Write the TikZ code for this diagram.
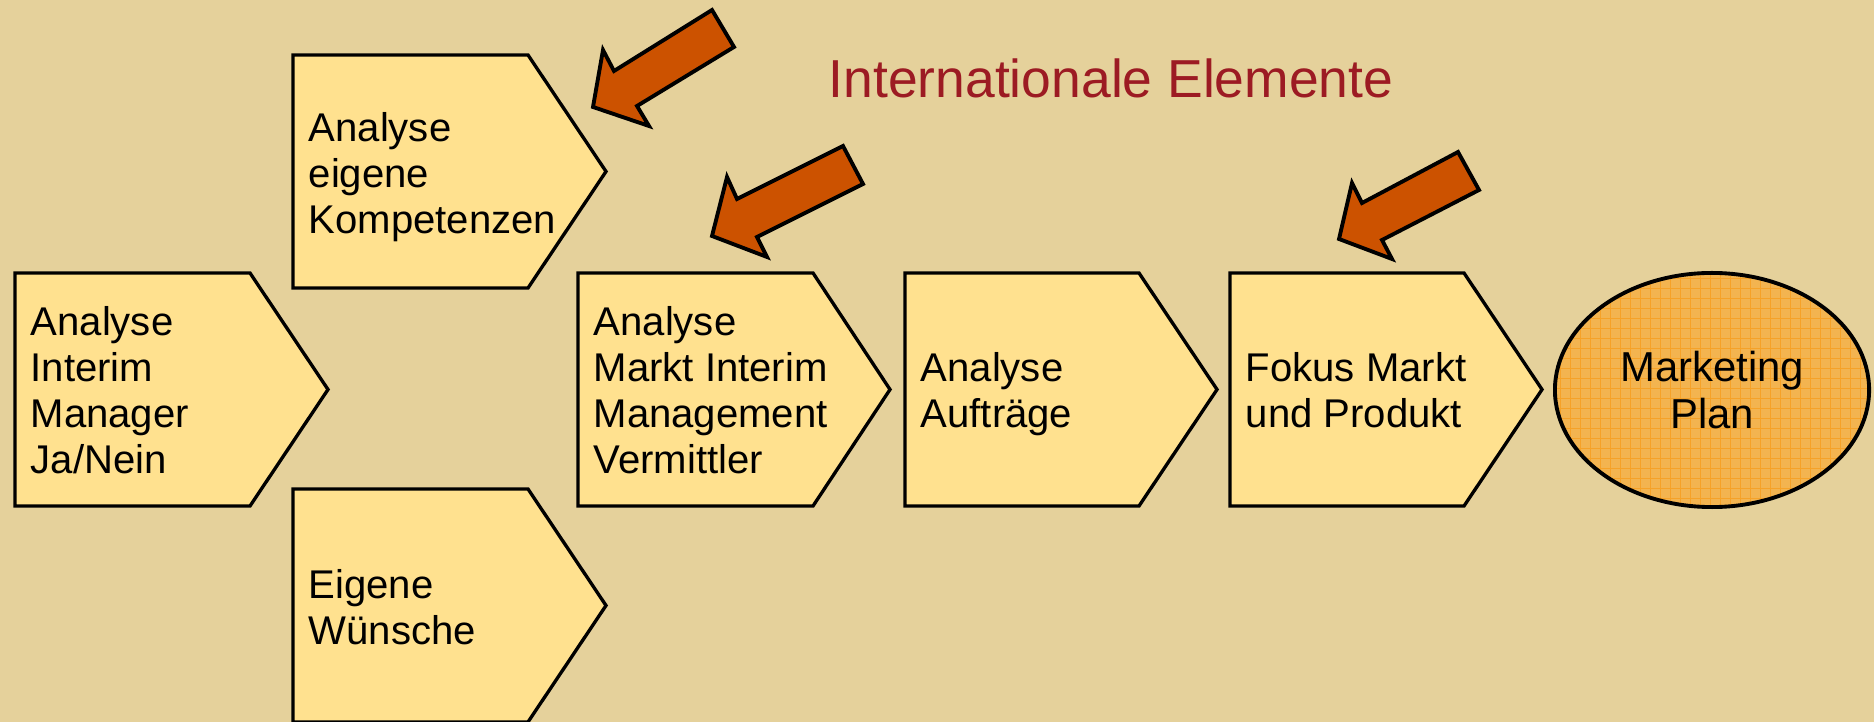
\documentclass[tikz,border=0pt]{standalone}
\usepackage{fontspec}
\setmainfont{Liberation Sans}
\usetikzlibrary{shapes.geometric}
\definecolor{paper}{RGB}{229,209,155}
\definecolor{stagefill}{RGB}{255,225,143}
\definecolor{intlfill}{RGB}{204,82,0}
\definecolor{planfill}{RGB}{243,180,80}
\definecolor{plangrid}{RGB}{246,162,40}
\definecolor{titlered}{RGB}{156,27,35}

\begin{document}
\begin{tikzpicture}[x=0.01cm,y=-0.01cm]
    \tikzstyle{every node}+=[inner sep=0pt]
    \tikzstyle{stage}=[draw=black, line width=0.95pt, fill=stagefill]
    \tikzstyle{stagetext}=[anchor=north west, align=left, font=\fontsize{11.4}{13.1}\selectfont]
    \tikzstyle{intl}=[draw=black, line width=1.1pt, fill=intlfill]
    \tikzstyle{plan}=[ellipse, draw=black, line width=1.1pt, fill=planfill,
        minimum width=3.14cm, minimum height=2.34cm, align=center,
        font=\fontsize{11.9}{13.6}\selectfont,
        path picture={\draw [plangrid, line width=0.3pt] (path picture bounding box.south west)
            grid [step=0.1cm] (path picture bounding box.north east);}]
    \useasboundingbox (0,0) rectangle (1874,722);
    \fill [paper] (0,0) rectangle (1874,722);
    % stages
    \draw [stage] (15,273) -- (250,273) -- (328,389.5) -- (250,506) -- (15,506) -- cycle;
    \node [stagetext] (interim) at (30,306) {Analyse\\Interim\\Manager\\Ja/Nein};
    \draw [stage] (293,55) -- (528,55) -- (606,171.5) -- (528,288) -- (293,288) -- cycle;
    \node [stagetext] (kompetenz) at (308,112) {Analyse\\eigene\\Kompetenzen};
    \draw [stage] (293,489) -- (528,489) -- (606,605.5) -- (528,722) -- (293,722) -- cycle;
    \node [stagetext] (wuensche) at (308,569) {Eigene\\Wünsche};
    \draw [stage] (578,273) -- (813,273) -- (890,389.5) -- (813,506) -- (578,506) -- cycle;
    \node [stagetext] (vermittler) at (593,306) {Analyse\\Markt Interim\\Management\\Vermittler};
    \draw [stage] (905,273) -- (1139,273) -- (1217,389.5) -- (1139,506) -- (905,506) -- cycle;
    \node [stagetext] (auftraege) at (920,352) {Analyse\\Aufträge};
    \draw [stage] (1230,273) -- (1464,273) -- (1542,389.5) -- (1464,506) -- (1230,506) -- cycle;
    \node [stagetext] (fokus) at (1245,352) {Fokus Markt\\und Produkt};
    % result
    \node [plan] (plan) at (1712,390) {Marketing\\Plan};
    % international elements
    \node [anchor=base west, text=titlered, font=\fontsize{15.2}{18}\selectfont] (title) at (828,98) {Internationale Elemente};
    \draw [intl] (593,107) -- (603,50) -- (614,71) -- (712,10) -- (734,47) -- (637,106) -- (649,126) -- cycle;
    \draw [intl] (712,236) -- (727,177) -- (737,199) -- (843,146) -- (863,184) -- (757,237) -- (767,257) -- cycle;
    \draw [intl] (1339,239) -- (1352,183) -- (1362,203) -- (1458,152) -- (1479,190) -- (1382,240) -- (1392,259) -- cycle;
\end{tikzpicture}
\end{document}
